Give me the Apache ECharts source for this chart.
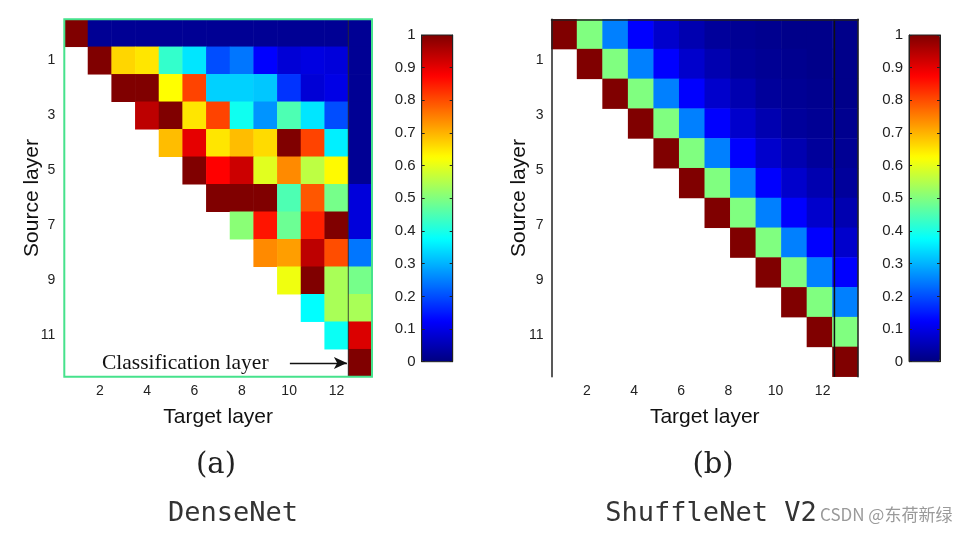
<!DOCTYPE html>
<html>
<head>
<meta charset="utf-8">
<script src="https://cdn.jsdelivr.net/npm/echarts@6/dist/echarts.min.js"></script>
<style>
  html, body { margin: 0; padding: 0; background: #fff; }
  #chart { width: 972px; height: 536px; }
</style>
</head>
<body>
<div id="chart"></div>
<script>
// target layers 1..13 on x, source layers 0..12 on y
const targetLayers = ['1', '2', '3', '4', '5', '6', '7', '8', '9', '10', '11', '12', '13']
const sourceLayers = ['0', '1', '2', '3', '4', '5', '6', '7', '8', '9', '10', '11', '12']
const shuffleLayers = ['1', '2', '3', '4', '5', '6', '7', '8', '9', '10', '11', '12']

// DenseNet weights, one row per source layer (null = no connection)
const n = null
const denseRows = [
  [1, .02, .02, .02, .02, .02, .02, .02, .02, .02, .02, .02, .02],
  [n, 1, .665, .65, .425, .35, .2, .24, .125, .085, .095, .09, .02],
  [n, n, 1, 1, .625, .81, .33, .33, .32, .175, .085, .1, .02],
  [n, n, n, .94, 1, .65, .81, .39, .27, .45, .35, .2, .02],
  [n, n, n, n, .69, .9, .65, .69, .66, 1, .81, .36, .02],
  [n, n, n, n, n, 1, .875, .925, .595, .74, .56, .63, .02],
  [n, n, n, n, n, n, 1, 1, 1, .45, .79, .49, .09],
  [n, n, n, n, n, n, n, .51, .855, .48, .845, 1, .09],
  [n, n, n, n, n, n, n, n, .74, .72, .94, .8, .24],
  [n, n, n, n, n, n, n, n, n, .61, 1, .54, .49],
  [n, n, n, n, n, n, n, n, n, n, .375, .54, .54],
  [n, n, n, n, n, n, n, n, n, n, n, .385, .91],
  [n, n, n, n, n, n, n, n, n, n, n, n, 1],
]

// ShuffleNet V2 weights (12 x 12)
const shuffleRows = [
  [1, .5, .25, .125, .075, .047, .027, .02, .015, .01, .01, .01],
  [n, 1, .5, .25, .125, .075, .047, .027, .02, .015, .01, .01],
  [n, n, 1, .5, .25, .125, .075, .047, .027, .02, .015, .01],
  [n, n, n, 1, .5, .25, .125, .075, .047, .027, .02, .015],
  [n, n, n, n, 1, .5, .25, .125, .075, .047, .027, .02],
  [n, n, n, n, n, 1, .5, .25, .125, .075, .047, .027],
  [n, n, n, n, n, n, 1, .5, .25, .125, .075, .047],
  [n, n, n, n, n, n, n, 1, .5, .25, .125, .075],
  [n, n, n, n, n, n, n, n, 1, .5, .25, .125],
  [n, n, n, n, n, n, n, n, n, 1, .5, .25],
  [n, n, n, n, n, n, n, n, n, n, 1, .5],
  [n, n, n, n, n, n, n, n, n, n, n, 1],
]

// boundary before the classification column, and the annotation arrow (in layer units)
const classifierEdge = [[12, 0], [12, 13]]
const arrowFrom = [9.53, 12.5]
const arrowTo = [11.94, 12.5]

const jet = ['#000080', '#0000ff', '#0080ff', '#00ffff', '#80ff80', '#ffff00', '#ff8000', '#ff0000', '#800000']

const toCells = (rows) => {
  const out = []
  rows.forEach((row, y) => row.forEach((v, x) => { if (v !== null) out.push([x, y, v]) }))
  return out
}

const sans = 'Liberation Sans, Arial, sans-serif'
const oddOnly = (i) => i % 2 === 1
const nameStyle = { fontSize: 21, fontFamily: sans, color: '#111' }
const tickLabel = (margin) => ({ interval: oddOnly, margin, color: '#222', fontSize: 14, fontFamily: sans })

const labelAxis = (gridIndex, data, extra) => ({
  type: 'category',
  gridIndex,
  data,
  z: 6,
  nameMoveOverlap: false,
  axisLine: { show: false },
  axisTick: { inside: true, length: 4, alignWithLabel: true, interval: oddOnly, lineStyle: { color: '#444' } },
  axisLabel: tickLabel(8),
  splitLine: { show: false },
  ...extra,
})
const hiddenCat = (gridIndex, data, extra) => ({ type: 'category', gridIndex, data, show: false, ...extra })
const hiddenVal = (gridIndex, extra) => ({ type: 'value', gridIndex, min: 0, max: 13, show: false, ...extra })
const barAxis = (gridIndex, position, showLabel) => ({
  type: 'value',
  gridIndex,
  position,
  min: 0,
  max: 1,
  interval: 0.1,
  z: 6,
  axisLine: { show: true, lineStyle: { color: '#222', width: 1 } },
  axisTick: { show: true, inside: true, length: 3, lineStyle: { color: '#222' } },
  axisLabel: { show: showLabel, margin: 6, color: '#222', fontSize: 15, fontFamily: sans },
  splitLine: { show: false },
})
const blackLine = { show: true, lineStyle: { color: '#222', width: 1.5 } }

const chart = echarts.init(document.getElementById('chart'))
chart.setOption({
  animation: false,
  backgroundColor: '#fff',
  grid: [
    { left: 64.3, top: 19.3, width: 307.7, height: 357.4, show: true, z: 5, borderColor: '#46e28c', borderWidth: 2, backgroundColor: 'transparent' },
    { left: 551.5, top: 19.3, width: 306.5, height: 357.4 },
    { left: 421.7, top: 35, width: 31, height: 326.7, show: true, z: 6, borderColor: '#222', borderWidth: 1, backgroundColor: 'transparent' },
    { left: 909, top: 35, width: 31, height: 326.7, show: true, z: 6, borderColor: '#222', borderWidth: 1, backgroundColor: 'transparent' },
  ],
  xAxis: [
    labelAxis(0, targetLayers, { name: 'Target layer', nameLocation: 'middle', nameGap: 30, nameTextStyle: nameStyle, axisLabel: tickLabel(7) }),
    hiddenVal(0),
    labelAxis(1, targetLayers, { axisLine: blackLine, name: 'Target layer', nameLocation: 'middle', nameGap: 30, nameTextStyle: nameStyle, axisLabel: tickLabel(7) }),
    hiddenCat(1, shuffleLayers),
    hiddenVal(1),
    hiddenCat(2, ['']),
    hiddenCat(3, ['']),
  ],
  yAxis: [
    labelAxis(0, sourceLayers, { inverse: true, name: 'Source layer', nameLocation: 'middle', nameGap: 22, nameTextStyle: nameStyle, axisLabel: tickLabel(9) }),
    hiddenVal(0, { inverse: true }),
    labelAxis(1, sourceLayers, { inverse: true, position: 'left', axisLine: blackLine, name: 'Source layer', nameLocation: 'middle', nameGap: 22, nameTextStyle: nameStyle, axisLabel: tickLabel(8) }),
    hiddenCat(1, shuffleLayers, { inverse: true }),
    hiddenVal(1, { inverse: true }),
    labelAxis(1, sourceLayers, { inverse: true, position: 'right', axisLine: blackLine, axisLabel: { show: false } }),
    barAxis(2, 'left', true),
    barAxis(2, 'right', false),
    barAxis(3, 'left', true),
    barAxis(3, 'right', false),
  ],
  visualMap: [
    { type: 'continuous', min: 0, max: 1, seriesIndex: 0, calculable: false, inRange: { color: jet }, left: 421.7, top: 35, itemWidth: 31, itemHeight: 326.7, padding: 0, z: 4 },
    { type: 'continuous', min: 0, max: 1, seriesIndex: 1, calculable: false, inRange: { color: jet }, left: 909, top: 35, itemWidth: 31, itemHeight: 326.7, padding: 0, z: 4 },
  ],
  series: [
    { type: 'heatmap', xAxisIndex: 0, yAxisIndex: 0, data: toCells(denseRows), emphasis: { disabled: true } },
    { type: 'heatmap', xAxisIndex: 3, yAxisIndex: 3, data: toCells(shuffleRows), emphasis: { disabled: true } },
    {
      type: 'line', xAxisIndex: 1, yAxisIndex: 1, z: 3, silent: true, showSymbol: false,
      data: classifierEdge,
      lineStyle: { color: 'rgba(40,40,40,0.7)', width: 1.2 },
      markLine: {
        silent: true,
        symbol: ['none', 'arrow'],
        symbolSize: [9, 13],
        label: { show: false },
        lineStyle: { color: '#111', width: 1.3, type: 'solid' },
        data: [[{ coord: arrowFrom }, { coord: arrowTo }]],
      },
    },
    {
      type: 'line', xAxisIndex: 4, yAxisIndex: 4, z: 3, silent: true, showSymbol: false,
      data: classifierEdge,
      lineStyle: { color: '#111', width: 1.5 },
    },
  ],
  graphic: [
    { type: 'text', x: 102, y: 363, style: { text: 'Classification layer', font: '21.5px "Liberation Serif", serif', fill: '#111', align: 'left', verticalAlign: 'middle' } },
    { type: 'text', x: 216, y: 465, style: { text: '(a)', font: '29px "DejaVu Serif", serif', fill: '#222', align: 'center', verticalAlign: 'middle' } },
    { type: 'text', x: 713, y: 465, style: { text: '(b)', font: '29px "DejaVu Serif", serif', fill: '#222', align: 'center', verticalAlign: 'middle' } },
    { type: 'text', x: 233, y: 514, style: { text: 'DenseNet', font: '27px "DejaVu Sans Mono", monospace', fill: '#333', align: 'center', verticalAlign: 'middle' } },
    { type: 'text', x: 711, y: 514, style: { text: 'ShuffleNet V2', font: '27px "DejaVu Sans Mono", monospace', fill: '#333', align: 'center', verticalAlign: 'middle' } },
    { type: 'text', x: 820, y: 515, style: { text: 'CSDN @东荷新绿', font: '17px "Noto Sans CJK SC", sans-serif', fill: '#9a9a9a', align: 'left', verticalAlign: 'middle' } },
  ],
})
</script>
</body>
</html>
